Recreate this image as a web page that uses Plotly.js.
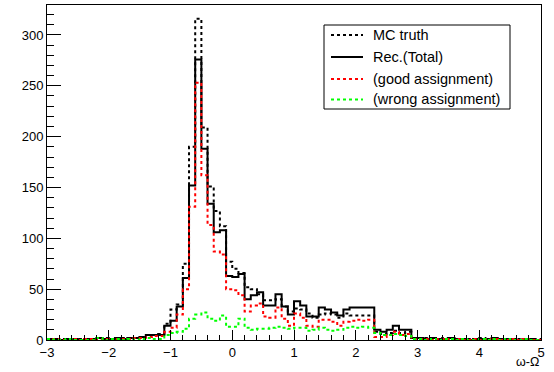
<!DOCTYPE html>
<html>
<head>
<meta charset="utf-8">
<script src="https://cdn.plot.ly/plotly-3.0.1.min.js"></script>
<style>
  html, body { margin: 0; padding: 0; background: #ffffff; }
  #chart { width: 554px; height: 372px; }
</style>
</head>
<body>
<div id="chart"></div>
<script>
// Histogram binning: 80 bins of width 0.1 from -3 to 5
const X_MIN = -3;
const BIN_WIDTH = 0.1;

// Series values, one per bin (bin i = [-3 + 0.1*i, -3 + 0.1*(i+1)])
const mcTruth = [
  1,0,1,1,0,1,1,0,1,2,1,1,2,1,2,
  3,5,5,6,16,30,35,75,190,316,209,151,127,112,77,
  70,66,52,50,45,39,39,40,33,28,31,30,26,22,25,
  26,25,22,26,24,24,24,24,8,6,7,9,7,8,2,
  1,2,1,1,2,1,1,0,1,1,2,1,1,0,1,1,1,0,1,1
];
const recTotal = [
  1,1,0,1,1,0,1,1,2,1,1,2,1,2,2,
  3,5,5,5,14,19,33,61,152,276,188,134,106,108,63,
  62,65,40,44,47,34,34,45,33,25,38,34,23,23,32,
  30,27,24,30,32,32,32,32,10,8,10,14,10,10,2,
  2,1,2,1,1,2,1,1,0,1,1,1,2,1,1,1,0,1,1,0
];
const goodAssign = [
  0,1,0,0,1,0,1,1,0,1,0,1,1,1,2,
  2,3,4,4,8,12,25,50,131,253,162,113,87,84,50,
  49,44,28,34,36,23,22,32,21,14,26,22,14,13,20,
  20,18,14,18,19,20,19,20,3,3,5,8,5,6,1,
  1,1,0,1,1,0,1,0,0,1,0,1,1,0,0,1,0,1,0,0
];
const wrongAssign = [
  1,0,0,1,0,0,0,0,2,0,1,1,0,1,0,
  1,2,1,1,5,7,8,11,21,25,27,21,19,24,13,
  13,21,12,10,11,11,12,13,12,11,12,12,9,10,12,
  10,9,10,12,13,12,13,12,7,5,5,6,5,4,1,
  1,0,1,0,1,1,0,1,0,0,1,0,1,0,1,0,0,1,0,0
];

const seriesNames = ["MC truth", "Rec.(Total)", "(good assignment)", "(wrong assignment)"];
const seriesColors = ["#000000", "#000000", "#ff0000", "#00ff00"];
const seriesDash = ["3px,3px", "solid", "3px,3px", "3px,3px"];
const xTitle = "ω-Ω";

// bin edges
const nBins = recTotal.length;
const edges = [];
for (let i = 0; i <= nBins; i++) edges.push(+(X_MIN + i * BIN_WIDTH).toFixed(2));

function stepY(vals) { return vals.concat([vals[vals.length - 1]]); }

const allSeries = [mcTruth, recTotal, goodAssign, wrongAssign];
const traces = allSeries.map((vals, k) => ({
  type: "scatter",
  mode: "lines",
  x: edges,
  y: stepY(vals),
  name: seriesNames[k],
  line: { shape: "hv", color: seriesColors[k], width: 2, dash: seriesDash[k] },
  showlegend: false,
  hoverinfo: "skip"
}));

// plot area in pixels: x 47..541, y 5..340
const L = 47, R = 541, T = 5, B = 340;
const px = v => (v - L) / (R - L);
const py = v => (B - v) / (B - T);

// manual legend (ROOT style box)
const legRows = [35, 57, 79, 99.5];
const shapes = [{
  type: "rect", xref: "paper", yref: "paper",
  x0: px(324), x1: px(510), y0: py(109), y1: py(25),
  line: { color: "#000000", width: 1 }, fillcolor: "#ffffff", layer: "above"
}];
const annotations = [];
legRows.forEach((yy, k) => {
  shapes.push({
    type: "line", xref: "paper", yref: "paper",
    x0: px(331), x1: px(363), y0: py(yy), y1: py(yy),
    line: { color: seriesColors[k], width: 2, dash: seriesDash[k] }, layer: "above"
  });
  annotations.push({
    xref: "paper", yref: "paper", x: px(371), y: py(yy),
    xanchor: "left", yanchor: "middle", showarrow: false,
    text: seriesNames[k],
    font: { family: "Liberation Sans, Arial, sans-serif", size: 14.5, color: "#000000" }
  });
});
annotations.push({
  xref: "paper", yref: "paper", x: 1, y: py(362),
  xanchor: "right", yanchor: "middle", showarrow: false,
  text: xTitle,
  font: { family: "Liberation Sans, Arial, sans-serif", size: 12.5, color: "#000000" }
});

const layout = {
  width: 554, height: 372,
  margin: { l: L, r: 554 - R, t: T, b: 372 - B, pad: 0 },
  paper_bgcolor: "#ffffff", plot_bgcolor: "#ffffff",
  font: { family: "Liberation Sans, Arial, sans-serif", size: 13, color: "#000000" },
  showlegend: false,
  xaxis: {
    range: [-3, 5], dtick: 1, tick0: 0,
    ticks: "inside", ticklen: 10, tickwidth: 1, tickcolor: "#000000",
    minor: { dtick: 0.2, ticks: "inside", ticklen: 5, tickcolor: "#000000", showgrid: false },
    showgrid: false, zeroline: false,
    showline: true, linecolor: "#000000", linewidth: 1, mirror: true,
    tickfont: { size: 13, color: "#000000" }
  },
  yaxis: {
    range: [0, 329.5], dtick: 50, tick0: 0,
    ticks: "inside", ticklen: 14, tickwidth: 1, tickcolor: "#000000",
    minor: { dtick: 10, ticks: "inside", ticklen: 7, tickcolor: "#000000", showgrid: false },
    showgrid: false, zeroline: false,
    showline: true, linecolor: "#000000", linewidth: 1, mirror: true,
    tickfont: { size: 13, color: "#000000" }
  },
  shapes: shapes,
  annotations: annotations
};

Plotly.newPlot("chart", traces, layout, { staticPlot: true, displayModeBar: false });
</script>
</body>
</html>
